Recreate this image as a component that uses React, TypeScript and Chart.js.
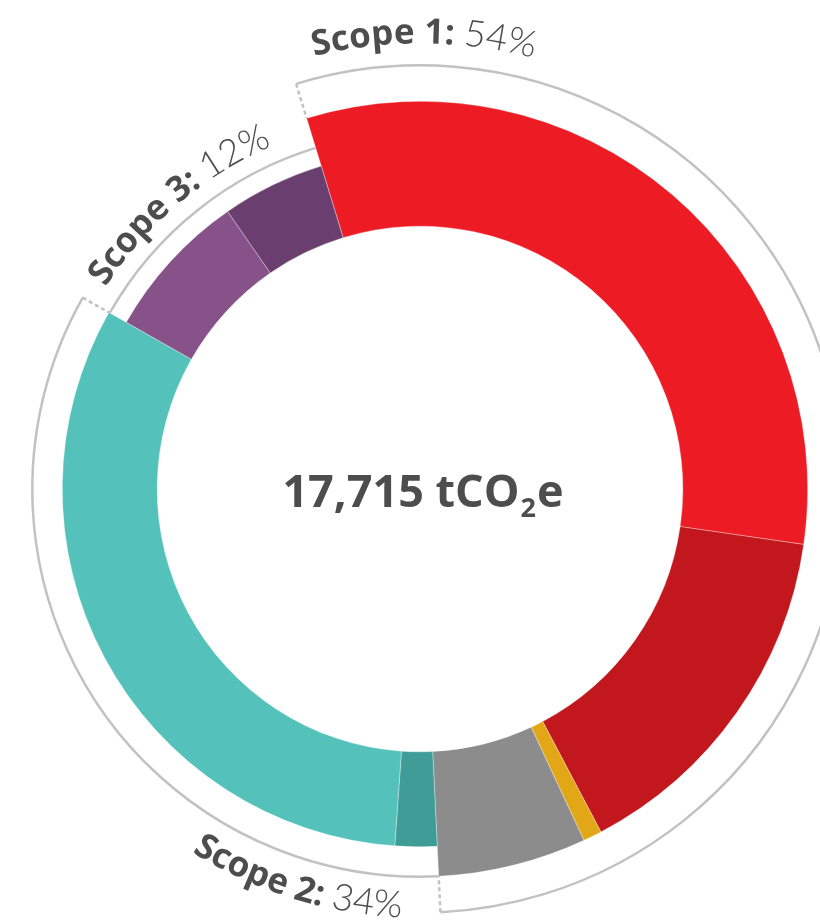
import React, { useEffect, useRef } from 'react';
import { Chart, registerables } from 'chart.js';

Chart.register(...registerables);

// ---- data ----
const categories = [
  'Scope 1 – source A',
  'Scope 1 – source B',
  'Scope 1 – source C',
  'Scope 1 – source D',
  'Scope 2 – source A',
  'Scope 2 – source B',
  'Scope 3 – source A',
  'Scope 3 – source B',
];
const values = [5670, 2655, 138, 1095, 335, 5685, 1265, 872];
const scopeOfCategory = [1, 1, 1, 1, 2, 2, 3, 3];
const colors = ['#ED1C24', '#C1171D', '#E2A716', '#8C8C8C', '#3F9C96', '#54C2BA', '#87528A', '#6A3F6F'];
const scopeNames = ['Scope 1:', 'Scope 2:', 'Scope 3:'];
const scopeShares = ['54%', '34%', '12%'];
const totalValue = '17,715';
const totalUnit = ['tCO', '2', 'e'];

// ---- styling / layout ----
const FONT = '"Open Sans", "DejaVu Sans", sans-serif';
const LIGHT_FONT = 'Lato, "Open Sans", sans-serif';
const TEXT = '#4D4D4D';
const LINE = '#C2C2C2';
const REF_R = 388;
const scopeOuter: Record<number, number> = { 1: 1, 2: 358 / REF_R, 3: 338 / REF_R };
const bracket: Record<number, { r: number; dotStart?: [number, number]; dotEnd?: [number, number] }> = {
  1: { r: 424 / REF_R, dotStart: [1, 424 / REF_R], dotEnd: [1, 424 / REF_R] },
  2: { r: 1, dotEnd: [358 / REF_R, 1] },
  3: { r: 357 / REF_R },
};
const labelPos: Record<number, { theta: number; r: number; dir: number }> = {
  1: { theta: 0.5, r: 446 / REF_R, dir: 1 },
  2: { theta: 197.3, r: 429 / REF_R, dir: -1 },
  3: { theta: -40.3, r: 374 / REF_R, dir: 1 },
};
const LABEL_SIZE = 35;

function drawArcText(
  ctx: CanvasRenderingContext2D,
  pieces: { text: string; font: string }[],
  cx: number,
  cy: number,
  r: number,
  centerAngle: number,
  dir: number
) {
  const chars: { ch: string; font: string; w: number }[] = [];
  pieces.forEach((p) => {
    ctx.font = p.font;
    for (const ch of p.text) chars.push({ ch, font: p.font, w: ctx.measureText(ch).width });
  });
  const total = chars.reduce((s, c) => s + c.w, 0);
  let acc = 0;
  const start = centerAngle - (dir * total) / (2 * r);
  ctx.save();
  ctx.fillStyle = TEXT;
  ctx.textAlign = 'center';
  ctx.textBaseline = 'alphabetic';
  chars.forEach((c) => {
    const a = start + (dir * (acc + c.w / 2)) / r;
    ctx.save();
    ctx.translate(cx + r * Math.cos(a), cy + r * Math.sin(a));
    ctx.rotate(dir > 0 ? a + Math.PI / 2 : a - Math.PI / 2);
    ctx.font = c.font;
    ctx.fillText(c.ch, 0, 0);
    ctx.restore();
    acc += c.w;
  });
  ctx.restore();
}

const scopePlugin = {
  id: 'scopePlugin',
  afterDatasetsUpdate(chart: any) {
    const meta = chart.getDatasetMeta(0);
    const R = meta.controller.outerRadius;
    meta.data.forEach((arc: any, i: number) => {
      arc.outerRadius = R * scopeOuter[scopeOfCategory[i]];
    });
  },
  beforeDatasetsDraw(chart: any) {
    const meta = chart.getDatasetMeta(0);
    const R = meta.controller.outerRadius;
    meta.data.forEach((arc: any, i: number) => {
      arc.outerRadius = R * scopeOuter[scopeOfCategory[i]];
    });
  },
  afterDatasetsDraw(chart: any) {
    const ctx: CanvasRenderingContext2D = chart.ctx;
    const meta = chart.getDatasetMeta(0);
    const arcs = meta.data;
    if (!arcs.length) return;
    const cx = arcs[0].x;
    const cy = arcs[0].y;
    const R = meta.controller.outerRadius;

    const ext: Record<number, { s: number; e: number }> = {};
    arcs.forEach((arc: any, i: number) => {
      const s = scopeOfCategory[i];
      if (!ext[s]) ext[s] = { s: arc.startAngle, e: arc.endAngle };
      else ext[s].e = arc.endAngle;
    });

    ctx.save();
    ctx.strokeStyle = LINE;
    ctx.lineWidth = 2.5;
    Object.keys(ext).forEach((k) => {
      const s = Number(k);
      const b = bracket[s];
      const { s: a0, e: a1 } = ext[s];
      ctx.setLineDash([]);
      ctx.beginPath();
      ctx.arc(cx, cy, b.r * R, a0, a1);
      ctx.stroke();
      ctx.setLineDash([4, 3]);
      const radial = (a: number, r0: number, r1: number) => {
        ctx.beginPath();
        ctx.moveTo(cx + r1 * R * Math.cos(a), cy + r1 * R * Math.sin(a));
        ctx.lineTo(cx + r0 * R * Math.cos(a), cy + r0 * R * Math.sin(a));
        ctx.stroke();
      };
      if (b.dotStart) radial(a0, b.dotStart[0], b.dotStart[1]);
      if (b.dotEnd) radial(a1, b.dotEnd[0], b.dotEnd[1]);
    });
    ctx.restore();

    // curved scope labels
    [1, 2, 3].forEach((s) => {
      const p = labelPos[s];
      drawArcText(
        ctx,
        [
          { text: scopeNames[s - 1] + ' ', font: `700 ${LABEL_SIZE}px ${FONT}` },
          { text: scopeShares[s - 1], font: `normal 300 ${LABEL_SIZE + 2}px ${LIGHT_FONT}` },
        ],
        cx,
        cy,
        p.r * R,
        ((p.theta - 90) * Math.PI) / 180,
        p.dir
      );
    });

    // centre total
    ctx.save();
    ctx.fillStyle = TEXT;
    ctx.textBaseline = 'alphabetic';
    ctx.textAlign = 'left';
    const big = `700 45px ${FONT}`;
    const small = `700 27px ${FONT}`;
    const mainText = totalValue + ' ' + totalUnit[0];
    ctx.font = big;
    const w1 = ctx.measureText(mainText).width;
    const w3 = ctx.measureText(totalUnit[2]).width;
    ctx.font = small;
    const w2 = ctx.measureText(totalUnit[1]).width;
    const total = w1 + w2 + w3 + 2;
    let x = cx + 3 - total / 2;
    const y = cy + 18;
    ctx.font = big;
    ctx.fillText(mainText, x, y);
    x += w1 + 1;
    ctx.font = small;
    ctx.fillText(totalUnit[1], x, y + 10);
    x += w2 + 1;
    ctx.font = big;
    ctx.fillText(totalUnit[2], x, y);
    ctx.restore();
  },
};

export default function App() {
  const canvasRef = useRef<HTMLCanvasElement | null>(null);

  useEffect(() => {
    if (!canvasRef.current) return;
    const chart = new Chart(canvasRef.current, {
      type: 'doughnut',
      data: {
        labels: categories,
        datasets: [
          {
            data: values,
            backgroundColor: colors,
            borderWidth: 0.6,
            borderColor: 'rgba(255,255,255,0.55)',
          },
        ],
      },
      options: {
        responsive: false,
        animation: false,
        events: [],
        rotation: -17,
        cutout: '67.8%',
        layout: { padding: { left: 32, right: 12, top: 101, bottom: 45 } },
        plugins: {
          legend: { display: false },
          tooltip: { enabled: false },
        },
      },
      plugins: [scopePlugin],
    });
    return () => chart.destroy();
  }, []);

  return (
    <div style={{ position: 'absolute', left: 0, top: 0, width: 820, height: 922, background: '#fff' }}>
      <canvas ref={canvasRef} width={820} height={922} style={{ width: 820, height: 922, display: 'block' }} />
    </div>
  );
}
